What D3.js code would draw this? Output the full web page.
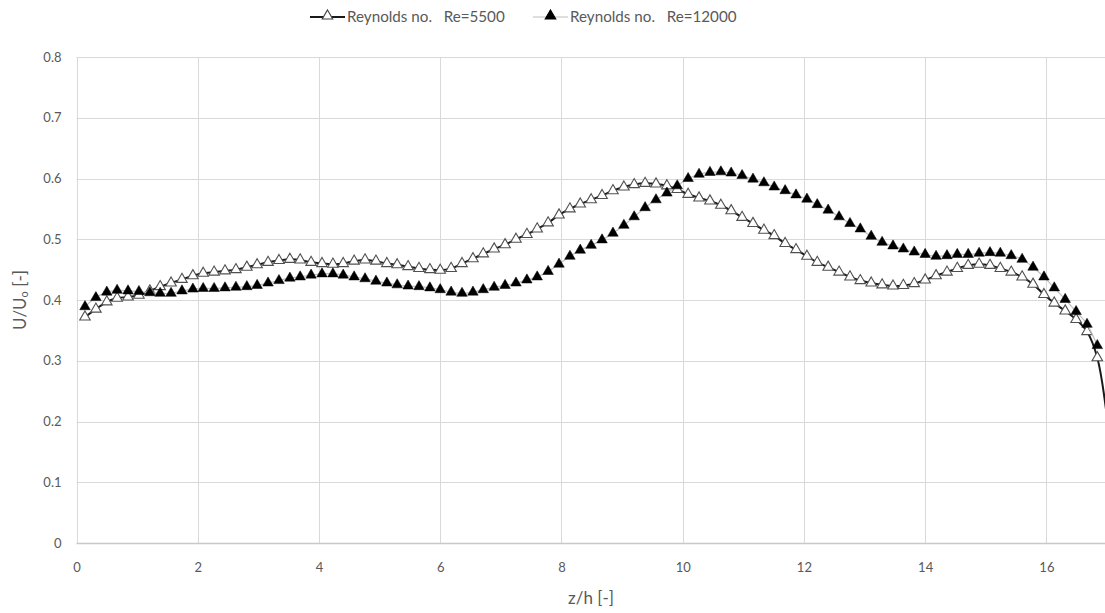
<!DOCTYPE html>
<html>
<head>
<meta charset="utf-8">
<script src="https://cdn.jsdelivr.net/npm/d3@7"></script>
<style>
  html, body { margin: 0; padding: 0; background: #ffffff; }
  svg { display: block; }
  text { font-family: Lato, "Open Sans", "DejaVu Sans", sans-serif; }
</style>
</head>
<body>
<svg id="chart" width="1105" height="613"></svg>
<script>
// ---- data ----
const zGrid = [0.14,0.32,0.50,0.67,0.85,1.03,1.21,1.38,1.56,1.74,1.92,2.09,2.27,2.45,2.63,2.81,2.98,3.16,3.34,3.52,
  3.69,3.87,4.05,4.23,4.40,4.58,4.76,4.94,5.12,5.29,5.47,5.65,5.83,6.00,6.18,6.36,6.54,6.71,6.89,7.07,
  7.25,7.43,7.60,7.78,7.96,8.14,8.31,8.49,8.67,8.85,9.03,9.20,9.38,9.56,9.74,9.91,10.09,10.27,10.45,10.63,
  10.80,10.98,11.16,11.34,11.51,11.69,11.87,12.05,12.22,12.40,12.58,12.76,12.93,13.11,13.29,13.47,13.64,13.82,14.00,14.18,
  14.36,14.53,14.71,14.89,15.07,15.24,15.42,15.60,15.78,15.96,16.13,16.31,16.49,16.67,16.84];

const re5500 = [0.372,0.385,0.397,0.403,0.405,0.408,0.415,0.422,0.428,0.434,0.440,0.444,0.446,0.448,0.450,0.454,0.458,0.462,0.465,0.467,
  0.466,0.462,0.460,0.459,0.460,0.464,0.466,0.464,0.460,0.458,0.455,0.452,0.450,0.449,0.452,0.460,0.468,0.476,0.484,0.491,
  0.500,0.508,0.517,0.527,0.540,0.550,0.558,0.565,0.572,0.580,0.586,0.590,0.592,0.591,0.588,0.582,0.574,0.568,0.563,0.556,
  0.547,0.536,0.526,0.515,0.506,0.493,0.483,0.472,0.462,0.454,0.446,0.438,0.432,0.428,0.425,0.423,0.424,0.427,0.433,0.440,
  0.446,0.452,0.457,0.459,0.457,0.452,0.446,0.438,0.426,0.409,0.395,0.382,0.368,0.348,0.305];
// last reading of Re=5500, just past the right edge of the picture (line only)
const re5500TailZ = [17.02];
const re5500TailV = [0.19];

const re12000 = [0.389,0.404,0.413,0.416,0.415,0.414,0.412,0.411,0.411,0.415,0.418,0.419,0.419,0.420,0.421,0.422,0.424,0.428,0.432,0.436,
  0.438,0.441,0.443,0.443,0.441,0.438,0.435,0.431,0.428,0.425,0.423,0.422,0.420,0.417,0.413,0.411,0.413,0.417,0.421,0.424,
  0.428,0.433,0.438,0.447,0.459,0.472,0.482,0.490,0.499,0.510,0.523,0.537,0.552,0.565,0.576,0.588,0.600,0.607,0.610,0.611,
  0.609,0.605,0.599,0.593,0.586,0.580,0.573,0.566,0.557,0.548,0.537,0.526,0.517,0.505,0.495,0.489,0.484,0.479,0.475,0.472,
  0.473,0.475,0.475,0.477,0.478,0.477,0.473,0.467,0.454,0.438,0.420,0.401,0.381,0.360,0.325];

const xTicks = [0, 2, 4, 6, 8, 10, 12, 14, 16];
const yTicks = [0, 0.1, 0.2, 0.3, 0.4, 0.5, 0.6, 0.7, 0.8];
const seriesNames = ["Reynolds no.   Re=5500", "Reynolds no.   Re=12000"];

// ---- chart ----
const svg = d3.select("#chart");
const x = d3.scaleLinear().domain([0, 17]).range([76.5, 1107]);
const y = d3.scaleLinear().domain([0, 0.8]).range([543, 57]);

const gridColor = "#d9d9d9";
const textColor = "#595959";

// horizontal gridlines
svg.append("g")
  .selectAll("line")
  .data(yTicks.slice(1))
  .join("line")
  .attr("x1", x(0)).attr("x2", 1105)
  .attr("y1", d => Math.round(y(d)) + 0.5).attr("y2", d => Math.round(y(d)) + 0.5)
  .attr("stroke", gridColor).attr("stroke-width", 1);

// vertical gridlines
svg.append("g")
  .selectAll("line")
  .data(xTicks)
  .join("line")
  .attr("x1", d => Math.round(x(d)) + 0.5).attr("x2", d => Math.round(x(d)) + 0.5)
  .attr("y1", y(0.8)).attr("y2", y(0))
  .attr("stroke", gridColor).attr("stroke-width", 1);

// x axis
const xAxis = svg.append("g")
  .attr("transform", `translate(0,${Math.round(y(0)) + 0.5})`)
  .call(d3.axisBottom(x).tickValues(xTicks).tickSize(0).tickPadding(19).tickFormat(d3.format("d")));
xAxis.select(".domain").attr("stroke", "#c8c8c8").attr("stroke-width", 1.3)
  .attr("d", `M${x(0)},0H1105`);
xAxis.selectAll("text").attr("fill", textColor).attr("font-size", 13);

// y axis
const yAxis = svg.append("g")
  .attr("transform", `translate(${Math.round(x(0)) + 0.5},0)`)
  .call(d3.axisLeft(y).tickValues(yTicks).tickSize(0).tickPadding(16)
    .tickFormat(d => d === 0 ? "0" : d3.format(".1f")(d)));
yAxis.select(".domain").remove();
yAxis.selectAll("text").attr("fill", textColor).attr("font-size", 13);

// axis titles
const yTitle = svg.append("text")
  .attr("transform", `translate(26,${y(0.4)}) rotate(-90)`)
  .attr("text-anchor", "middle")
  .attr("fill", textColor)
  .attr("font-size", 17);
yTitle.append("tspan").text("U/U");
yTitle.append("tspan").text("o").attr("font-size", 11).attr("dy", 2);
yTitle.append("tspan").text(" [-]").attr("dy", -2);

svg.append("text")
  .attr("x", 591).attr("y", 604)
  .attr("text-anchor", "middle")
  .attr("fill", textColor)
  .attr("font-size", 17)
  .text("z/h [-]");

// series
const pts5500 = zGrid.map((z, i) => [z, re5500[i]]);
const line5500 = pts5500.concat(re5500TailZ.map((z, i) => [z, re5500TailV[i]]));
const pts12000 = zGrid.map((z, i) => [z, re12000[i]]);

const line = d3.line().x(d => x(d[0])).y(d => y(d[1])).curve(d3.curveCatmullRom.alpha(0.5));
const tri = d3.symbol().type(d3.symbolTriangle).size(48);

const plot = svg.append("g");

// Re=5500: black line, open triangles
plot.append("path").datum(line5500)
  .attr("d", line).attr("fill", "none").attr("stroke", "#1a1a1a").attr("stroke-width", 2);
plot.append("g").selectAll("path")
  .data(pts5500)
  .join("path")
  .attr("transform", d => `translate(${x(d[0])},${y(d[1])})`)
  .attr("d", tri)
  .attr("fill", "#ffffff").attr("stroke", "#505050").attr("stroke-width", 1.1);

// Re=12000: light grey line, filled triangles
plot.append("path").datum(pts12000)
  .attr("d", line).attr("fill", "none").attr("stroke", "#bfbfbf").attr("stroke-width", 1.2);
plot.append("g").selectAll("path")
  .data(pts12000)
  .join("path")
  .attr("transform", d => `translate(${x(d[0])},${y(d[1])})`)
  .attr("d", tri)
  .attr("fill", "#000000").attr("stroke", "#000000").attr("stroke-width", 0.5);

// legend
const legend = svg.append("g");
const legendItems = [
  { name: seriesNames[0], x0: 310, lineColor: "#1a1a1a", lineW: 2, fill: "#ffffff", stroke: "#404040" },
  { name: seriesNames[1], x0: 533, lineColor: "#bfbfbf", lineW: 1.2, fill: "#000000", stroke: "#000000" }
];
legendItems.forEach(it => {
  const g = legend.append("g");
  g.append("line").attr("x1", it.x0).attr("x2", it.x0 + 35).attr("y1", 17).attr("y2", 17)
    .attr("stroke", it.lineColor).attr("stroke-width", it.lineW);
  g.append("path").attr("transform", `translate(${it.x0 + 17.5},16)`)
    .attr("d", tri).attr("fill", it.fill).attr("stroke", it.stroke).attr("stroke-width", 1.1);
  g.append("text").attr("x", it.x0 + 37).attr("y", 22)
    .attr("fill", textColor).attr("font-size", 15.2)
    .style("white-space", "pre")
    .text(it.name);
});
</script>
</body>
</html>
